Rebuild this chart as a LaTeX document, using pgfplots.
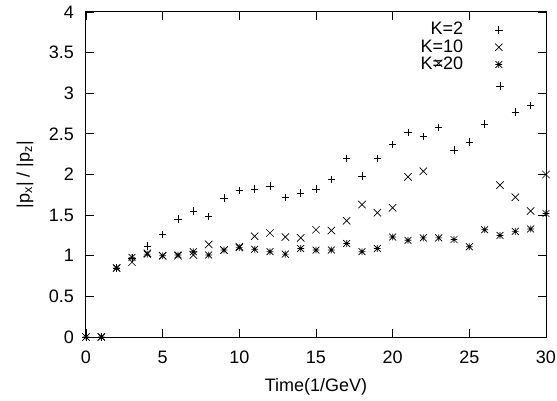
\documentclass[border=0pt]{standalone}
\usepackage{fontspec}
\setmainfont{Liberation Sans}
\usepackage{pgfplots}
\pgfplotsset{compat=1.18}
\pgfdeclareplotmark{gstar}{%
  \pgfpathmoveto{\pgfqpoint{-\pgfplotmarksize}{0pt}}\pgfpathlineto{\pgfqpoint{\pgfplotmarksize}{0pt}}%
  \pgfpathmoveto{\pgfqpoint{0pt}{-\pgfplotmarksize}}\pgfpathlineto{\pgfqpoint{0pt}{\pgfplotmarksize}}%
  \pgfpathmoveto{\pgfqpoint{-\pgfplotmarksize}{-\pgfplotmarksize}}\pgfpathlineto{\pgfqpoint{\pgfplotmarksize}{\pgfplotmarksize}}%
  \pgfpathmoveto{\pgfqpoint{-\pgfplotmarksize}{\pgfplotmarksize}}\pgfpathlineto{\pgfqpoint{\pgfplotmarksize}{-\pgfplotmarksize}}%
  \pgfusepathqstroke}
\begin{document}
\fontsize{18}{21}\selectfont
\begin{tikzpicture}
\begin{axis}[
  scale only axis, width=460pt, height=325pt,
  xmin=0, xmax=30, ymin=0, ymax=4,
  xtick={0,5,...,30}, ytick={0,0.5,...,4},
  tick align=inside, major tick length=8pt,
  axis line style={line width=1pt},
  every tick/.style={black, line width=0.8pt},
  /pgf/number format/assume math mode=true,
  yticklabel style={xshift=-6pt},
  xticklabel style={yshift=-7.5pt},
  xlabel={Time(1/GeV)},
  ylabel={|p\textsubscript{x}| / |p\textsubscript{z}|},
  xlabel style={at={(axis description cs:0.5,-0.1538)}, anchor=center},
  ylabel style={at={(axis description cs:-0.1326,0.5)}, anchor=center},
  clip=false,
  legend plot pos=right,
  legend cell align=right,
  legend style={draw=none, fill=none, at={(0.9124,0.981)}, anchor=north east, column sep=30pt, row sep=-2pt},
]
\addplot[only marks, mark=+, mark size=3.7pt, line width=0.7pt, black] coordinates {
(0,0) (1,0) (2,0.85) (3,0.97) (4,1.12) (5,1.26) (6,1.45) (7,1.55) (8,1.48) (9,1.71)
(10,1.80) (11,1.82) (12,1.86) (13,1.72) (14,1.77) (15,1.82) (16,1.94) (17,2.20) (18,1.98) (19,2.20)
(20,2.37) (21,2.52) (22,2.47) (23,2.58) (24,2.30) (25,2.40) (26,2.62) (27,3.09) (28,2.77) (29,2.85)
};
\addlegendentry{K=2}
\addplot[only marks, mark=x, mark size=5.2pt, line width=0.7pt, black] coordinates {
(0,0) (1,0) (2,0.85) (3,0.92) (4,1.03) (5,1.00) (6,1.00) (7,1.01) (8,1.14) (9,1.07)
(10,1.11) (11,1.24) (12,1.28) (13,1.23) (14,1.22) (15,1.32) (16,1.31) (17,1.43) (18,1.63) (19,1.53)
(20,1.59) (21,1.97) (22,2.04) (23,3.37) (27,1.87) (28,1.72) (29,1.55) (30,2.00)
};
\addlegendentry{K=10}
\addplot[only marks, mark=gstar, mark size=3.4pt, line width=0.7pt, black] coordinates {
(0,0) (1,0) (2,0.85) (3,0.98) (4,1.02) (5,1.00) (6,1.01) (7,1.05) (8,1.01) (9,1.07)
(10,1.10) (11,1.08) (12,1.05) (13,1.02) (14,1.09) (15,1.07) (16,1.07) (17,1.15) (18,1.05) (19,1.09)
(20,1.23) (21,1.19) (22,1.22) (23,1.22) (24,1.20) (25,1.11) (26,1.32) (27,1.25) (28,1.30) (29,1.33) (30,1.52)
};
\addlegendentry{K=20}
\end{axis}
\pgfresetboundingbox
\path ([xshift=-86pt,yshift=-63pt]current axis.south west) rectangle ([xshift=11pt,yshift=12pt]current axis.north east);
\end{tikzpicture}
\end{document}
